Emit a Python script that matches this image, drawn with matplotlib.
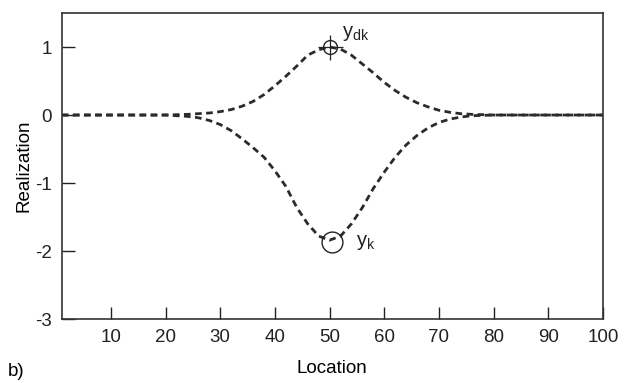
import matplotlib
matplotlib.use("Agg")
import matplotlib.pyplot as plt

plt.rcParams['font.family'] = ['Liberation Sans', 'DejaVu Sans']

# locations
location = [1, 20, 24, 26, 28, 30, 32, 34, 36, 38, 40, 42, 44, 46, 48, 50,
            52, 54, 56, 58, 60, 62, 64, 66, 68, 70, 72, 74, 76, 80, 100]
# upper curve (y_dk)
upper = [0, 0, 0.01, 0.02, 0.03, 0.05, 0.08, 0.13, 0.2, 0.3, 0.43, 0.57, 0.72,
         0.88, 0.96, 1.0, 0.97, 0.88, 0.75, 0.62, 0.48, 0.36, 0.26, 0.18, 0.12,
         0.07, 0.04, 0.02, 0.01, 0, 0]
# lower curve (y_k)
lower = [0, 0, -0.02, -0.04, -0.08, -0.14, -0.23, -0.35, -0.48, -0.62, -0.82,
         -1.05, -1.36, -1.6, -1.78, -1.84, -1.78, -1.6, -1.36, -1.08, -0.84,
         -0.62, -0.44, -0.3, -0.19, -0.11, -0.06, -0.03, -0.01, 0, 0]

# observation points
ydk_x, ydk_y = 50, 1.0
yk_x, yk_y = 50.4, -1.87

xticks = [10, 20, 30, 40, 50, 60, 70, 80, 90, 100]
yticks = [1, 0, -1, -2, -3]

fig = plt.figure(figsize=(6.3, 3.83), dpi=100)
ax = fig.add_axes([0.098, 0.167, 0.859, 0.799])

lc = '#2b2b2b'
ax.plot(location, upper, ls=(0, (2.4, 1.6)), lw=2.0, color=lc)
ax.plot(location, lower, ls=(0, (2.4, 1.6)), lw=2.0, color=lc)

# markers
ax.plot(ydk_x, ydk_y, 'o', ms=10, mfc='none', mec='#222222', mew=1.0)
ax.plot(ydk_x, ydk_y, '+', ms=18, mec='#222222', mew=0.9)
ax.plot(yk_x, yk_y, 'o', ms=15, mfc='none', mec='#222222', mew=1.0)

ax.text(ydk_x + 2.3, ydk_y + 0.2, 'y$_\\mathregular{dk}$', fontsize=14.5,
        color='#222222', va='center', ha='left')
ax.text(yk_x + 4.5, yk_y, 'y$_\\mathregular{k}$', fontsize=14.5,
        color='#222222', va='center', ha='left')

ax.set_xlim(1, 100)
ax.set_ylim(-3, 1.5)
ax.set_xticks(xticks)
ax.set_xticklabels([str(t) for t in xticks])
ax.set_yticks(yticks)
ax.set_yticklabels([str(t) for t in yticks])
ax.tick_params(direction='in', length=9, width=1, colors='#222222',
               labelsize=13.5, top=False, right=False, pad=7)
for s in ax.spines.values():
    s.set_color('#333333')
    s.set_linewidth(1.2)

ax.set_xlabel('Location', fontsize=13.5, labelpad=10)
ax.set_ylabel('Realization', fontsize=13.5, labelpad=2)
fig.text(0.012, 0.03, 'b)', fontsize=13.5, va='center')

fig.savefig('out.png', dpi=100)
